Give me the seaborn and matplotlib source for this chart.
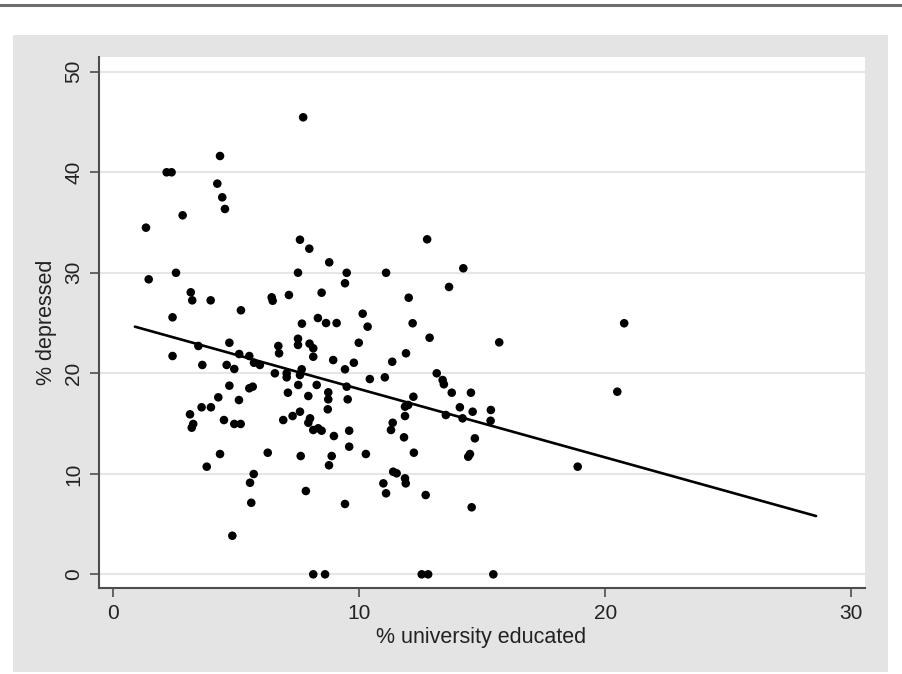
import matplotlib
matplotlib.use("Agg")
import matplotlib.pyplot as plt
from matplotlib.patches import Rectangle
from matplotlib.lines import Line2D
import seaborn as sns
import pandas as pd

# % university educated (x) and % depressed (y)
univ = [7.72, 4.34, 2.17, 2.37, 4.23, 4.43, 4.54, 2.82, 1.33, 7.59,
        7.97, 8.78, 7.51, 9.49, 11.09, 2.55, 1.44, 9.42, 3.15, 3.21,
        3.96, 6.44, 6.48, 7.14, 8.47, 10.14, 5.19, 2.41, 7.67, 8.32,
        8.65, 9.08, 10.34, 12.76, 14.23, 13.65, 12.01, 12.17, 12.86, 15.69,
        9.98, 7.51, 7.51, 7.98, 8.13, 11.90, 8.13, 8.94, 9.78, 11.34,
        9.42, 7.05, 7.05, 7.66, 7.59, 10.43, 11.04, 13.15, 13.39, 13.44,
        13.76, 14.54, 7.52, 8.27, 8.74, 8.74, 8.72, 7.10, 7.93, 9.49,
        9.53, 12.20, 11.99, 11.86, 11.86, 14.09, 14.61, 15.35, 13.52, 14.20,
        15.34, 7.59, 7.29, 6.91, 8.00, 7.93, 8.13, 8.33, 8.47, 8.97,
        9.59, 9.59, 11.36, 11.29, 11.82, 14.70, 7.62, 8.88, 8.77, 10.27,
        12.22, 14.50, 14.43, 11.38, 11.52, 10.98, 11.09, 11.86, 11.89, 7.83,
        9.42, 12.70, 14.57, 8.13, 8.61, 12.54, 12.80, 15.45, 2.41, 3.46,
        4.72, 3.62, 4.61, 4.92, 5.12, 5.53, 5.72, 5.96, 6.71, 6.74,
        6.57, 4.72, 5.53, 5.67, 4.27, 5.11, 3.59, 3.97, 3.12, 3.25,
        3.19, 4.50, 4.92, 5.18, 4.34, 6.28, 3.80, 5.71, 5.56, 5.61,
        4.84, 20.77, 20.49, 18.88]
depressed = [45.47, 41.62, 40.0, 40.0, 38.87, 37.51, 36.35, 35.72, 34.49, 33.29,
             32.40, 31.04, 30.01, 30.0, 30.0, 30.0, 29.35, 28.96, 28.06, 27.26,
             27.26, 27.56, 27.22, 27.79, 28.02, 25.93, 26.27, 25.57, 24.94, 25.50,
             25.0, 25.0, 24.64, 33.33, 30.45, 28.59, 27.52, 24.98, 23.54, 23.08,
             23.04, 23.44, 22.82, 22.95, 22.49, 21.99, 21.65, 21.32, 21.05, 21.15,
             20.40, 20.0, 19.60, 20.40, 19.83, 19.43, 19.60, 20.0, 19.33, 18.91,
             18.07, 18.07, 18.84, 18.84, 18.11, 17.41, 16.42, 18.07, 17.74, 18.67,
             17.41, 17.67, 16.85, 16.68, 15.75, 16.62, 16.18, 16.35, 15.85, 15.52,
             15.28, 16.18, 15.75, 15.35, 15.52, 15.08, 14.36, 14.53, 14.29, 13.76,
             14.29, 12.70, 15.08, 14.36, 13.63, 13.53, 11.77, 11.77, 10.85, 11.97,
             12.10, 11.97, 11.70, 10.21, 10.05, 9.05, 8.06, 9.55, 9.05, 8.29,
             7.0, 7.89, 6.67, 0.0, 0.0, 0.0, 0.0, 0.0, 21.72, 22.72,
             23.04, 20.83, 20.83, 20.43, 21.92, 21.72, 21.05, 20.83, 22.72, 21.99,
             20.0, 18.77, 18.51, 18.67, 17.61, 17.34, 16.62, 16.62, 15.92, 14.96,
             14.59, 15.35, 14.96, 14.96, 11.97, 12.10, 10.71, 9.98, 9.11, 7.12,
             3.84, 24.98, 18.17, 10.71]

# fitted line end points
fit_x = [0.88, 28.57]
fit_y = [24.64, 5.80]

x_ticks = [0, 10, 20, 30]
y_ticks = [0, 10, 20, 30, 40, 50]

df = pd.DataFrame({"univ": univ, "depressed": depressed})
fit = pd.DataFrame({"univ": fit_x, "depressed": fit_y})

sns.set_theme(style="white")
plt.rcParams["font.family"] = ["Liberation Sans", "DejaVu Sans"]

fig = plt.figure(figsize=(9.02, 6.74), dpi=100)
fig.patch.set_facecolor("white")

# gray graph region and the top rule
fig.patches.append(Rectangle((13 / 902, 2 / 674), 875 / 902, 637 / 674,
                             transform=fig.transFigure, facecolor="#e4e4e4",
                             edgecolor="none", zorder=-10))
fig.lines.append(Line2D([0, 1], [1 - 5 / 674, 1 - 5 / 674], transform=fig.transFigure,
                        color="#6e6e6e", lw=2.2, zorder=-10))

ax = fig.add_axes([99 / 902, 86 / 674, 766 / 902, 531 / 674])
ax.set_facecolor("white")

sns.scatterplot(data=df, x="univ", y="depressed", ax=ax, color="black",
                s=38, edgecolor="none", zorder=3)
sns.lineplot(data=fit, x="univ", y="depressed", ax=ax, color="black",
             lw=1.9, zorder=4)

ax.set_xlim(-0.58, 30.56)
ax.set_ylim(-1.36, 51.47)
ax.set_xticks(x_ticks)
ax.set_yticks(y_ticks)
ax.yaxis.grid(True, color="#e6e6e6", lw=1.5)
ax.xaxis.grid(False)
ax.set_axisbelow(True)

for side in ["top", "right"]:
    ax.spines[side].set_visible(False)
for side in ["left", "bottom"]:
    ax.spines[side].set_color("#4d4d4d")
    ax.spines[side].set_linewidth(1.5)

ax.tick_params(axis="both", which="major", direction="out", length=6.5, width=1.2,
               color="#4d4d4d", labelsize=15, labelcolor="#222222",
               left=True, bottom=True)
ax.tick_params(axis="x", pad=5)
ax.tick_params(axis="y", pad=5)
for lab in ax.get_yticklabels():
    lab.set_rotation(90)
    lab.set_va("center")

ax.set_xlabel("% university educated", fontsize=15.5, color="#222222", va="center")
ax.set_ylabel("% depressed", fontsize=15.5, color="#222222", va="center")
ax.xaxis.set_label_coords(481 / 766 - 99 / 766, -50 / 531)
ax.yaxis.set_label_coords(-52 / 766, 0.5)

fig.savefig("out.png", dpi=100)
